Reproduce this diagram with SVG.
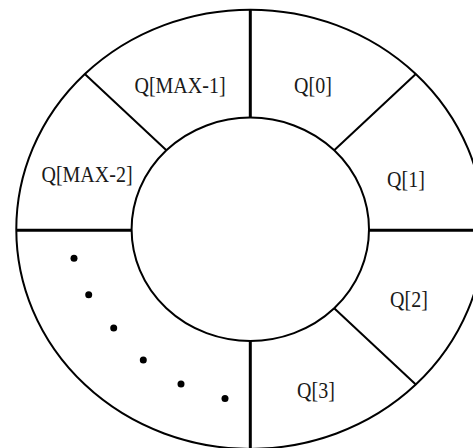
<svg xmlns="http://www.w3.org/2000/svg" width="473" height="448" viewBox="0 0 473 448">
  <style>
    .ring { fill: none; stroke: #000; stroke-width: 2; }
    .axis { stroke: #000; stroke-width: 3; }
    .diag { stroke: #000; stroke-width: 2; }
    .lbl { font-family: "Liberation Serif", "Times New Roman", serif; font-size: 20px; fill: #1a1a1a; text-anchor: middle; }
    .dot { fill: #000; }
  </style>
  <rect width="473" height="448" fill="#fff"/>
  <g id="ring">
    <ellipse class="ring" cx="250.3" cy="229.3" rx="234" ry="219.6"/>
    <ellipse class="ring" cx="250.3" cy="229.3" rx="118.7" ry="111.7"/>
  </g>
  <g id="connectors">
    <line class="axis" x1="250.3" y1="9.7" x2="250.3" y2="117.6"/>
    <line class="axis" x1="250.3" y1="341" x2="250.3" y2="450"/>
    <line class="axis" x1="16.3" y1="230.3" x2="131.6" y2="230.3"/>
    <line class="axis" x1="369" y1="230.3" x2="485" y2="230.3"/>
    <line class="diag" x1="84.8" y1="74" x2="166.4" y2="150.3"/>
    <line class="diag" x1="415.8" y1="74" x2="334.2" y2="150.3"/>
    <line class="diag" x1="415.8" y1="384.6" x2="334.2" y2="308.3"/>
  </g>
  <g id="q-max-1"><text class="lbl" transform="translate(180 93.3) scale(1 1.15)">Q[MAX-1]</text></g>
  <g id="q-0"><text class="lbl" transform="translate(313 93.3) scale(1 1.15)">Q[0]</text></g>
  <g id="q-max-2"><text class="lbl" transform="translate(87 182.3) scale(1 1.15)">Q[MAX-2]</text></g>
  <g id="q-1"><text class="lbl" transform="translate(406 187.3) scale(1 1.15)">Q[1]</text></g>
  <g id="q-2"><text class="lbl" transform="translate(409 307.3) scale(1 1.15)">Q[2]</text></g>
  <g id="q-3"><text class="lbl" transform="translate(316 398.3) scale(1 1.15)">Q[3]</text></g>
  <g id="ellipsis">
    <circle class="dot" cx="74" cy="258.3" r="3.5"/>
    <circle class="dot" cx="88.7" cy="294.7" r="3.5"/>
    <circle class="dot" cx="113.7" cy="328" r="3.5"/>
    <circle class="dot" cx="143.3" cy="360" r="3.5"/>
    <circle class="dot" cx="181" cy="384" r="3.5"/>
    <circle class="dot" cx="225" cy="398.5" r="3.5"/>
  </g>
</svg>
